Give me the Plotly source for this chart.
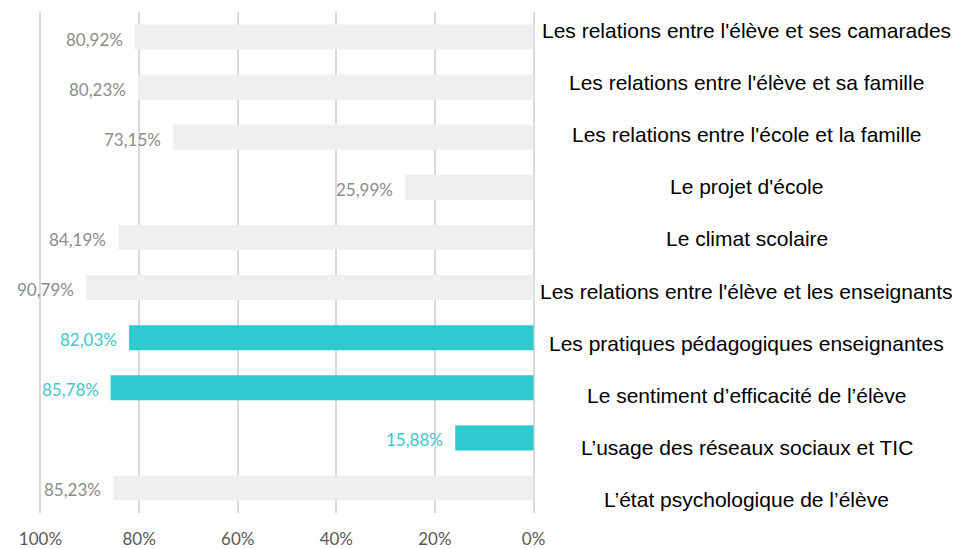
import plotly.graph_objects as go

# Catégories (de haut en bas) et pourcentages
categories = [
    "Les relations entre l'élève et ses camarades",
    "Les relations entre l'élève et sa famille",
    "Les relations entre l'école et la famille",
    "Le projet d'école",
    "Le climat scolaire",
    "Les relations entre l'élève et les enseignants",
    "Les pratiques pédagogiques enseignantes",
    "Le sentiment d’efficacité de l’élève",
    "L’usage des réseaux sociaux et TIC",
    "L’état psychologique de l’élève",
]
valeurs = [80.92, 80.23, 73.15, 25.99, 84.19, 90.79, 82.03, 85.78, 15.88, 85.23]
surligne = [False, False, False, False, False, False, True, True, True, False]
ticks = [0, 20, 40, 60, 80, 100]

GRIS = "#efefef"
TEAL = "#2ecad0"
couleurs = [TEAL if s else GRIS for s in surligne]
couleurs_txt = ["#41c6c9" if s else "#8c8c8c" for s in surligne]
textes = [f"{v:.2f}".replace(".", ",") + "%" for v in valeurs]

fig = go.Figure()
fig.add_trace(go.Bar(
    x=valeurs, y=categories, orientation="h",
    marker=dict(color=couleurs, line=dict(width=0)),
    width=0.5, showlegend=False, hoverinfo="x+y",
))

# Étiquettes de valeur à gauche de chaque barre
for c, v, t, col in zip(categories, valeurs, textes, couleurs_txt):
    fig.add_annotation(
        x=v, y=c, xref="x", yref="y", text=t, showarrow=False,
        xanchor="right", xshift=-10, yshift=-2,
        font=dict(family="Lato, sans-serif", size=17, color=col),
    )

# Libellés des catégories : colonne à droite, espacement régulier
n = len(categories)
haut, bas = 0.964, 0.026
for i, c in enumerate(categories):
    fig.add_annotation(
        x=1.4274, xref="paper", y=haut - i * (haut - bas) / (n - 1), yref="paper",
        text=c, showarrow=False, xanchor="center", yanchor="middle",
        font=dict(family="Liberation Sans, Arial, sans-serif", size=21, color="#000000"),
    )

fig.update_xaxes(
    range=[100.3, -0.3], tickvals=ticks, ticktext=[f"{t}%" for t in ticks],
    showgrid=True, gridcolor="#d9d9d9", gridwidth=1.5,
    zeroline=False, showline=False, automargin=False,
    ticklabelstandoff=14,
    tickfont=dict(family="Lato, sans-serif", size=17, color="#595959"),
)
fig.update_yaxes(
    autorange="reversed", showticklabels=False, showgrid=False,
    zeroline=False, showline=False, automargin=False,
)
fig.update_layout(
    width=953, height=541,
    margin=dict(l=31, r=426, t=4, b=36),
    plot_bgcolor="white", paper_bgcolor="white",
)

fig.write_html("out.html")
